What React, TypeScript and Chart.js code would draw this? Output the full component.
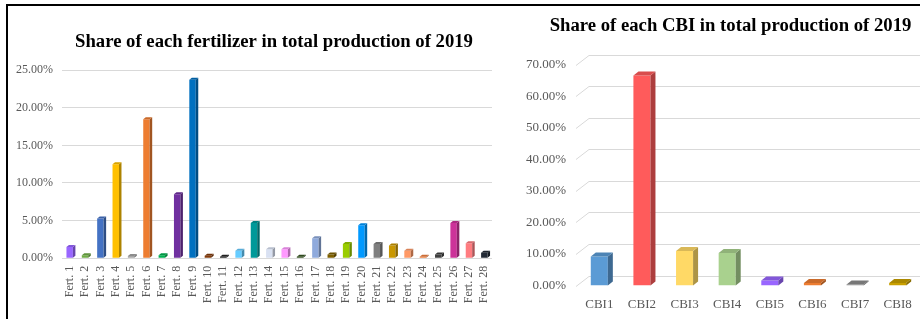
import React, { useEffect, useRef } from "react";
import { Chart, registerables } from "chart.js";
Chart.register(...registerables);

const SERIF = '"Liberation Serif", "Times New Roman", serif';

const fertLabels = [
  "Fert. 1", "Fert. 2", "Fert. 3", "Fert. 4", "Fert. 5", "Fert. 6", "Fert. 7",
  "Fert. 8", "Fert. 9", "Fert. 10", "Fert. 11", "Fert. 12", "Fert. 13", "Fert. 14",
  "Fert. 15", "Fert. 16", "Fert. 17", "Fert. 18", "Fert. 19", "Fert. 20", "Fert. 21",
  "Fert. 22", "Fert. 23", "Fert. 24", "Fert. 25", "Fert. 26", "Fert. 27", "Fert. 28",
];
const fertValues = [
  1.5, 0.4, 5.3, 12.5, 0.3, 18.45, 0.4, 8.5, 23.7, 0.35, 0.2, 1.0, 4.7, 1.2,
  1.2, 0.2, 2.65, 0.5, 1.9, 4.4, 1.9, 1.7, 1.0, 0.2, 0.5, 4.7, 2.0, 0.75,
];
const fertColors = [
  "#9966ff", "#70ad47", "#4472c4", "#ffc000", "#a5a5a5", "#ed7d31", "#00b050",
  "#7030a0", "#0070c0", "#843c0c", "#262626", "#66ccff", "#009999", "#d9e1f2",
  "#ff99ff", "#375623", "#8faadc", "#7f6000", "#99cc00", "#0099ff", "#7f7f7f",
  "#c99700", "#ff9966", "#f08040", "#404040", "#cc3399", "#ff7c80", "#222a35",
];
const fertTicks = [0, 5, 10, 15, 20, 25];

const cbiLabels = ["CBI1", "CBI2", "CBI3", "CBI4", "CBI5", "CBI6", "CBI7", "CBI8"];
const cbiValues = [9.2, 66.5, 10.9, 10.3, 1.6, 0.8, 0.3, 0.8];
const cbiColors = ["#5b9bd5", "#ff5b5b", "#ffd966", "#a9d18e", "#9966ff", "#ed7d31", "#8c8c8c", "#c9a000"];
const cbiTicks = [0, 10, 20, 30, 40, 50, 60, 70];

function shade(hex: string, f: number): string {
  const n = parseInt(hex.slice(1), 16);
  let r = (n >> 16) & 255, g = (n >> 8) & 255, b = n & 255;
  if (f <= 1) {
    r = Math.round(r * f); g = Math.round(g * f); b = Math.round(b * f);
  } else {
    const t = f - 1;
    r = Math.round(r + (255 - r) * t); g = Math.round(g + (255 - g) * t); b = Math.round(b + (255 - b) * t);
  }
  return `rgb(${r},${g},${b})`;
}

function make3D(colors: string[], dx: number, dy: number) {
  return {
    id: "bars3d",
    afterDatasetsDraw(chart: any) {
      const ctx = chart.ctx;
      const meta = chart.getDatasetMeta(0);
      ctx.save();
      meta.data.forEach((bar: any, i: number) => {
        const { x, y, base, width } = bar.getProps(["x", "y", "base", "width"], true);
        const l = x - width / 2, r = x + width / 2;
        ctx.fillStyle = shade(colors[i], 0.68);
        ctx.beginPath();
        ctx.moveTo(r, y); ctx.lineTo(r + dx, y - dy); ctx.lineTo(r + dx, base - dy); ctx.lineTo(r, base);
        ctx.closePath(); ctx.fill();
        ctx.fillStyle = shade(colors[i], 0.85);
        ctx.beginPath();
        ctx.moveTo(l, y); ctx.lineTo(l + dx, y - dy); ctx.lineTo(r + dx, y - dy); ctx.lineTo(r, y);
        ctx.closePath(); ctx.fill();
      });
      ctx.restore();
    },
  };
}

const backWallGrid = {
  id: "backWallGrid",
  beforeDatasetsDraw(chart: any) {
    const { ctx, chartArea } = chart;
    const ys = chart.scales.y;
    ctx.save();
    ctx.strokeStyle = "#d9d9d9";
    ctx.lineWidth = 1;
    ys.ticks.forEach((t: any) => {
      const py = Math.round(ys.getPixelForValue(t.value)) + 0.5;
      ctx.beginPath();
      ctx.moveTo(chartArea.left - 2, py);
      ctx.lineTo(chartArea.left + 11, py - 10);
      ctx.lineTo(chart.width, py - 10);
      ctx.stroke();
    });
    ctx.restore();
  },
};

// an empty right-hand spacer axis, used to balance the title over the plot
function spacer(w: number) {
  return {
    position: "right",
    display: true,
    grid: { display: false, drawTicks: false },
    border: { display: false },
    ticks: { display: false },
    afterFit: (s: any) => { s.width = w; },
  };
}

export default function App() {
  const leftRef = useRef<HTMLCanvasElement>(null);
  const rightRef = useRef<HTMLCanvasElement>(null);

  useEffect(() => {
    const left = new Chart(leftRef.current!, {
      type: "bar",
      data: {
        labels: fertLabels,
        datasets: [{ data: fertValues, backgroundColor: fertColors, barPercentage: 0.42, categoryPercentage: 1, borderWidth: 0 }],
      },
      options: {
        animation: false,
        responsive: false,
        maintainAspectRatio: false,
        layout: { padding: { left: 0, right: 0, top: 0, bottom: 0 } },
        plugins: {
          legend: { display: false },
          tooltip: { enabled: false },
          title: {
            display: true,
            text: "Share of each fertilizer in total production of 2019",
            color: "#000",
            font: { family: SERIF, size: 18.7, weight: "bold", lineHeight: 1.2 },
            padding: { top: 30.5, bottom: 17.1 },
          },
        },
        scales: {
          x: {
            grid: { display: false, drawTicks: false },
            border: { display: false },
            ticks: { maxRotation: 90, minRotation: 90, autoSkip: false, padding: 7.5, color: "#595959", font: { family: SERIF, size: 12 } },
            afterFit: (s: any) => { s.height = 60.7; },
          },
          y: {
            min: 0,
            max: 25,
            afterBuildTicks: (s: any) => { s.ticks = fertTicks.map((v) => ({ value: v })); },
            grid: { color: "#d9d9d9", drawTicks: false },
            border: { display: false },
            ticks: { padding: 9, color: "#595959", font: { family: SERIF, size: 12 }, callback: (v: any) => Number(v).toFixed(2) + "%" },
            afterFit: (s: any) => { s.width = 62; },
          },
          yR: spacer(56),
        },
      } as any,
      plugins: [make3D(fertColors, 2.5, 2)],
    });

    const right = new Chart(rightRef.current!, {
      type: "bar",
      data: {
        labels: cbiLabels,
        datasets: [{ data: cbiValues, backgroundColor: cbiColors, barPercentage: 0.4, categoryPercentage: 1, borderWidth: 0 }],
      },
      options: {
        animation: false,
        responsive: false,
        maintainAspectRatio: false,
        layout: { padding: { left: 21, right: 0, top: 0, bottom: 0 } },
        plugins: {
          legend: { display: false },
          tooltip: { enabled: false },
          title: {
            display: true,
            text: "Share of each CBI in total production of 2019",
            color: "#000",
            font: { family: SERIF, size: 18.7, weight: "bold", lineHeight: 1.2 },
            padding: { top: 14.8, bottom: 27.3 },
          },
        },
        scales: {
          x: {
            grid: { display: false, drawTicks: false },
            border: { display: false },
            ticks: { maxRotation: 0, minRotation: 0, autoSkip: false, padding: 11.5, color: "#595959", font: { family: SERIF, size: 13 } },
            afterFit: (s: any) => { s.height = 33.5; },
          },
          y: {
            min: 0,
            max: 70,
            afterBuildTicks: (s: any) => { s.ticks = cbiTicks.map((v) => ({ value: v })); },
            grid: { display: false, drawTicks: false },
            border: { display: false },
            ticks: { padding: 12, color: "#595959", font: { family: SERIF, size: 13 }, callback: (v: any) => Number(v).toFixed(2) + "%" },
            afterFit: (s: any) => { s.width = 57; },
          },
          yR: spacer(21),
        },
      } as any,
      plugins: [backWallGrid, make3D(cbiColors, 5, 4)],
    });

    return () => {
      left.destroy();
      right.destroy();
    };
  }, []);

  return (
    <div style={{ position: "absolute", left: 0, top: 0, width: 920, height: 319, background: "#fff", overflow: "hidden" }}>
      <div style={{ position: "absolute", left: 6, top: 4, width: 914, height: 315, borderTop: "2px solid #000", borderLeft: "2px solid #000", boxSizing: "border-box" }} />
      <canvas ref={leftRef} width={548} height={319} style={{ position: "absolute", left: 0, top: 0 }} />
      <canvas ref={rightRef} width={440} height={319} style={{ position: "absolute", left: 500, top: 0 }} />
    </div>
  );
}
